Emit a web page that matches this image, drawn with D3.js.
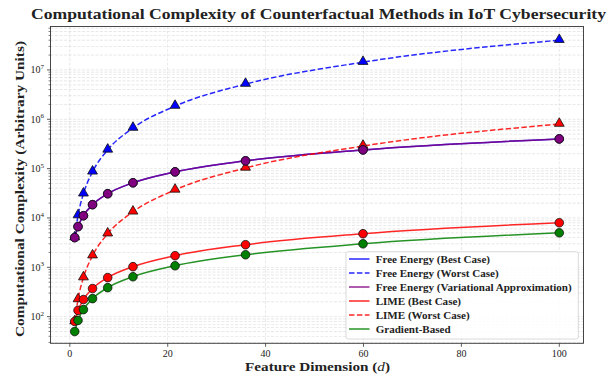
<!DOCTYPE html>
<html>
<head>
<meta charset="utf-8">
<title>Computational Complexity of Counterfactual Methods</title>
<script src="https://cdn.jsdelivr.net/npm/d3@7"></script>
<style>
  body { margin: 0; background: #fff; }
  text { font-family: "Liberation Serif", "DejaVu Serif", serif; fill: #222; }
  .grid line { stroke: #c4c4c4; stroke-width: 0.55; stroke-dasharray: 3,1.5; opacity: 0.7; }
  .tick-label { font-size: 10px; }
</style>
</head>
<body>
<script>
// feature dimensions (log-spaced 1..100)
var dims = [1, 1.67, 2.78, 4.64, 7.74, 12.9, 21.5, 35.9, 59.9, 100];

// values
var feBest    = [4000, 6680, 11100, 18600, 31000, 51600, 86000, 143600, 239600, 400000];
var feWorst   = [4000, 11200, 30900, 86000, 239600, 664000, 1849000, 5155000, 14350000, 40000000];
var feVar     = [4000, 6680, 11100, 18600, 31000, 51600, 86000, 143600, 239600, 400000];
var limeBest  = [80, 134, 222, 371, 619, 1030, 1720, 2870, 4790, 8000];
var limeWorst = [80, 223, 618, 1720, 4790, 13300, 37000, 103100, 287000, 800000];
var gradBased = [50, 84, 139, 232, 387, 645, 1075, 1795, 2995, 5000];

var xTicks = [0, 20, 40, 60, 80, 100];
var yTicks = [2, 3, 4, 5, 6, 7];   // exponents

var series = [
    {name: "Free Energy (Best Case)", vals: feBest, color: "#0000ff", fill: "#0000ff", dash: null, marker: "circle"},
    {name: "Free Energy (Worst Case)", vals: feWorst, color: "#0000ff", fill: "#0000ff", dash: "5.5,2.4", marker: "triangle"},
    {name: "Free Energy (Variational Approximation)", vals: feVar, color: "#800080", fill: "#800080", dash: null, marker: "circle"},
    {name: "LIME (Best Case)", vals: limeBest, color: "#ff0000", fill: "#ff0000", dash: null, marker: "circle"},
    {name: "LIME (Worst Case)", vals: limeWorst, color: "#ff0000", fill: "#ff0000", dash: "5.5,2.4", marker: "triangle"},
    {name: "Gradient-Based", vals: gradBased, color: "#008000", fill: "#008000", dash: null, marker: "circle"}
];

var width = 613, height = 375;
var pLeft = 50.5, pRight = 583.5, pTop = 26.5, pBottom = 343.3;

var svg = d3.select("body").append("svg")
        .attr("width", width)
        .attr("height", height);

var x = d3.scaleLinear().domain([-3.95, 104.95]).range([pLeft, pRight]);
var y = d3.scaleLog().domain([Math.pow(10, 1.46), Math.pow(10, 7.88)]).range([pBottom, pTop]);

// minor values inside the domain
var minor = [];
for (var e = 1; e <= 7; e++) {
    for (var m = 2; m <= 9; m++) {
        var v = m * Math.pow(10, e);
        if (v >= y.domain()[0] && v <= y.domain()[1]) minor.push(v);
    }
}
var major = yTicks.map(function (p) { return Math.pow(10, p); });

// grid
var grid = svg.append("g").attr("class", "grid");
grid.selectAll("line.h").data(major.concat(minor)).enter().append("line")
        .attr("x1", pLeft).attr("x2", pRight)
        .attr("y1", function (d) { return y(d); })
        .attr("y2", function (d) { return y(d); });
grid.selectAll("line.v").data(xTicks).enter().append("line")
        .attr("y1", pTop).attr("y2", pBottom)
        .attr("x1", function (d) { return x(d); })
        .attr("x2", function (d) { return x(d); });

// lines
var line = d3.line()
        .x(function (d) { return x(d[0]); })
        .y(function (d) { return y(d[1]); })
        .curve(d3.curveMonotoneX);

var plot = svg.append("g");
series.forEach(function (s) {
    plot.append("path")
            .datum(dims.map(function (d, i) { return [d, s.vals[i]]; }))
            .attr("d", line)
            .attr("fill", "none")
            .attr("stroke", s.color)
            .attr("stroke-width", 1.5)
            .attr("stroke-opacity", 0.85)
            .attr("stroke-dasharray", s.dash);
});

// markers: triangles first, circles on top
var tri = d3.symbol().type(d3.symbolTriangle).size(42);
series.filter(function (s) { return s.marker === "triangle"; }).forEach(function (s) {
    plot.selectAll(null).data(s.vals).enter().append("path")
            .attr("d", tri)
            .attr("transform", function (d, i) { return "translate(" + x(dims[i]) + "," + (y(d) - 0.6) + ")"; })
            .attr("fill", s.fill)
            .attr("stroke", "#111")
            .attr("stroke-width", 0.8);
});
series.filter(function (s) { return s.marker === "circle"; }).forEach(function (s) {
    plot.selectAll(null).data(s.vals).enter().append("circle")
            .attr("cx", function (d, i) { return x(dims[i]); })
            .attr("cy", function (d) { return y(d); })
            .attr("r", 4.3)
            .attr("fill", s.fill)
            .attr("stroke", "#111")
            .attr("stroke-width", 0.8);
});

// frame
svg.append("rect")
        .attr("x", pLeft).attr("y", pTop)
        .attr("width", pRight - pLeft).attr("height", pBottom - pTop)
        .attr("fill", "none").attr("stroke", "#333").attr("stroke-width", 0.9);

// x ticks
var xt = svg.append("g");
xt.selectAll("line").data(xTicks).enter().append("line")
        .attr("x1", function (d) { return x(d); }).attr("x2", function (d) { return x(d); })
        .attr("y1", pBottom).attr("y2", pBottom + 3.5)
        .attr("stroke", "#333").attr("stroke-width", 0.8);
xt.selectAll("text").data(xTicks).enter().append("text")
        .attr("class", "tick-label")
        .attr("x", function (d) { return x(d); })
        .attr("y", 357)
        .attr("text-anchor", "middle")
        .text(function (d) { return d; });

// y ticks
var yt = svg.append("g");
yt.selectAll("line.maj").data(major).enter().append("line")
        .attr("x1", pLeft - 3.5).attr("x2", pLeft)
        .attr("y1", function (d) { return y(d); }).attr("y2", function (d) { return y(d); })
        .attr("stroke", "#333").attr("stroke-width", 0.8);
yt.selectAll("line.min").data(minor).enter().append("line")
        .attr("x1", pLeft - 2).attr("x2", pLeft)
        .attr("y1", function (d) { return y(d); }).attr("y2", function (d) { return y(d); })
        .attr("stroke", "#333").attr("stroke-width", 0.6);
var ylab = yt.selectAll("text").data(yTicks).enter().append("text")
        .attr("class", "tick-label")
        .attr("x", 44)
        .attr("y", function (p) { return y(Math.pow(10, p)) + 3.4; })
        .attr("text-anchor", "end");
ylab.append("tspan").text("10");
ylab.append("tspan").attr("dy", -4.5).style("font-size", "7px").text(function (p) { return p; });

// title and axis labels
svg.append("text")
        .attr("x", 318.5).attr("y", 19)
        .attr("text-anchor", "middle")
        .attr("textLength", 575).attr("lengthAdjust", "spacingAndGlyphs")
        .style("font-size", "14px").style("font-weight", "bold")
        .text("Computational Complexity of Counterfactual Methods in IoT Cybersecurity");

var xl = svg.append("text")
        .attr("x", 317.5).attr("y", 371)
        .attr("text-anchor", "middle")
        .attr("textLength", 145).attr("lengthAdjust", "spacingAndGlyphs")
        .style("font-size", "13.5px").style("font-weight", "bold");
xl.append("tspan").text("Feature Dimension (");
xl.append("tspan").style("font-style", "italic").style("font-weight", "normal").text("d");
xl.append("tspan").text(")");

svg.append("text")
        .attr("transform", "translate(24,189) rotate(-90)")
        .attr("text-anchor", "middle")
        .attr("textLength", 296).attr("lengthAdjust", "spacingAndGlyphs")
        .style("font-size", "13.5px").style("font-weight", "bold")
        .text("Computational Complexity (Arbitrary Units)");

// legend
var lg = svg.append("g");
lg.append("rect")
        .attr("x", 346).attr("y", 251.7)
        .attr("width", 232.3).attr("height", 87.3)
        .attr("rx", 2)
        .attr("fill", "#fff").attr("fill-opacity", 0.85)
        .attr("stroke", "#d0d0d0").attr("stroke-width", 0.8);

var rowY = d3.scalePoint().domain(series.map(function (s) { return s.name; })).range([259, 329]);
var items = lg.selectAll("g.item").data(series).enter().append("g");
items.append("line")
        .attr("x1", 349).attr("x2", 369.5)
        .attr("y1", function (s) { return rowY(s.name); })
        .attr("y2", function (s) { return rowY(s.name); })
        .attr("stroke", function (s) { return s.color; })
        .attr("stroke-opacity", 0.85)
        .attr("stroke-width", 1.5)
        .attr("stroke-dasharray", function (s) { return s.dash; });
var lt = items.append("text")
        .attr("x", 375.7)
        .attr("y", function (s) { return rowY(s.name) + 3.8; })
        .style("font-size", "11px").style("font-weight", "bold")
        .text(function (s) { return s.name; });

// stretch legend text so the longest entry spans ~196px
var longest = d3.max(lt.nodes(), function (n) { return n.getComputedTextLength(); });
var k = 196 / longest;
lt.each(function () {
    this.setAttribute("textLength", this.getComputedTextLength() * k);
    this.setAttribute("lengthAdjust", "spacingAndGlyphs");
});
</script>
</body>
</html>
